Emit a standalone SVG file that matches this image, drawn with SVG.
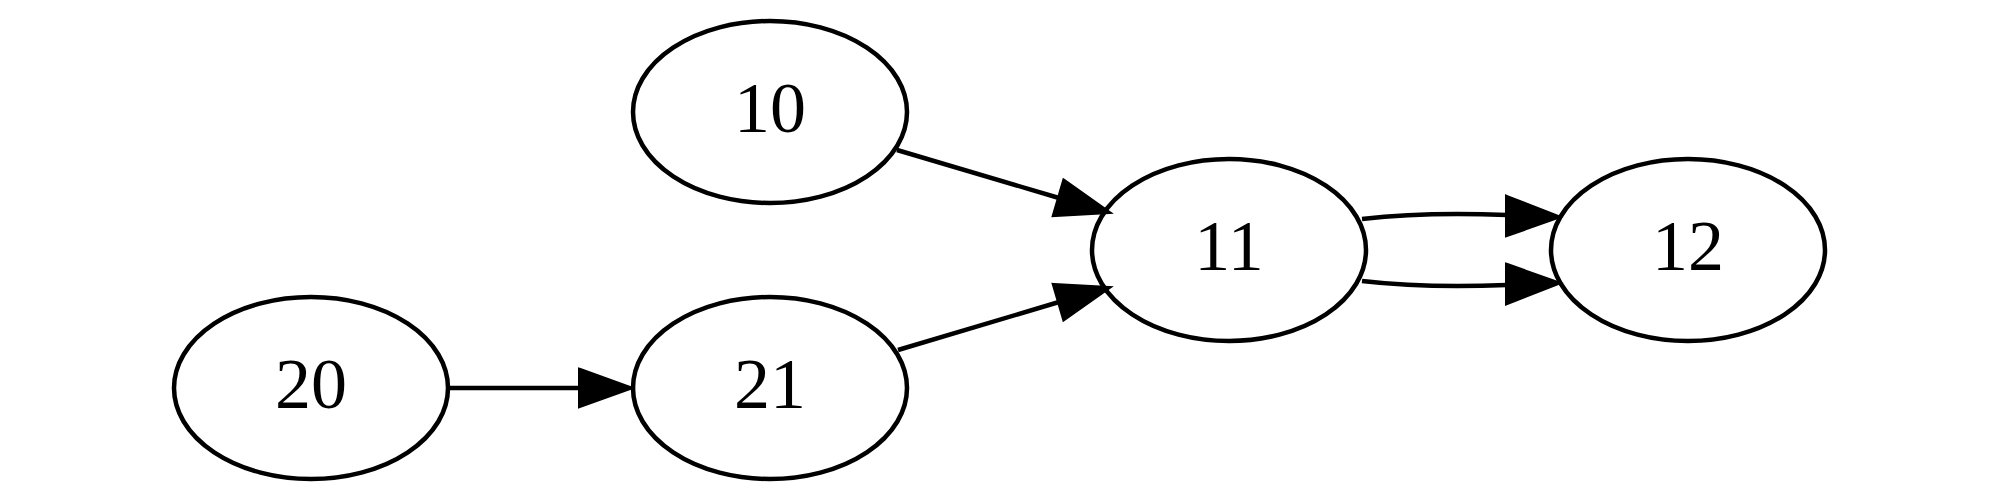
<svg xmlns="http://www.w3.org/2000/svg" width="2000" height="500" viewBox="0 0 2000 500">
<style>
.node ellipse{fill:none;stroke:#000;stroke-width:4.5}
.node text{font-family:"Liberation Serif","Times New Roman",serif;font-size:72px;text-anchor:middle;fill:#000}
.edge path{fill:none;stroke:#000;stroke-width:4.5}
.edge polygon{fill:#000;stroke:#000;stroke-width:4;stroke-linejoin:miter}
</style>
<rect width="2000" height="500" fill="#fff"/>
<g id="node-10" class="node"><ellipse cx="770" cy="112" rx="137" ry="91"/><text x="770" y="132">10</text></g>
<g id="node-11" class="node"><ellipse cx="1229" cy="250" rx="137" ry="91"/><text x="1229" y="270">11</text></g>
<g id="node-12" class="node"><ellipse cx="1688" cy="250" rx="137" ry="91"/><text x="1688" y="270">12</text></g>
<g id="node-20" class="node"><ellipse cx="311" cy="388" rx="137" ry="91"/><text x="311" y="408">20</text></g>
<g id="node-21" class="node"><ellipse cx="770" cy="388" rx="137" ry="91"/><text x="770" y="408">21</text></g>
<g id="connectors" class="edge">
<g id="edge-20-21"><path d="M448,388 L580,388"/><polygon points="580,370 630,388 580,406"/></g>
<g id="edge-10-11"><path d="M897,150 L1059,198"/><polygon points="1064,181 1108,212 1054,215"/></g>
<g id="edge-21-11"><path d="M898,350 L1059,302"/><polygon points="1054,285 1108,288 1064,319"/></g>
<g id="edge-11-12a"><path d="M1362,219 C1405,214 1460,213 1507,215"/><polygon points="1507,197 1558,217 1507,235"/></g>
<g id="edge-11-12b"><path d="M1362,281 C1405,286 1460,287 1507,285"/><polygon points="1507,265 1558,283 1507,303"/></g>
</g>
</svg>
